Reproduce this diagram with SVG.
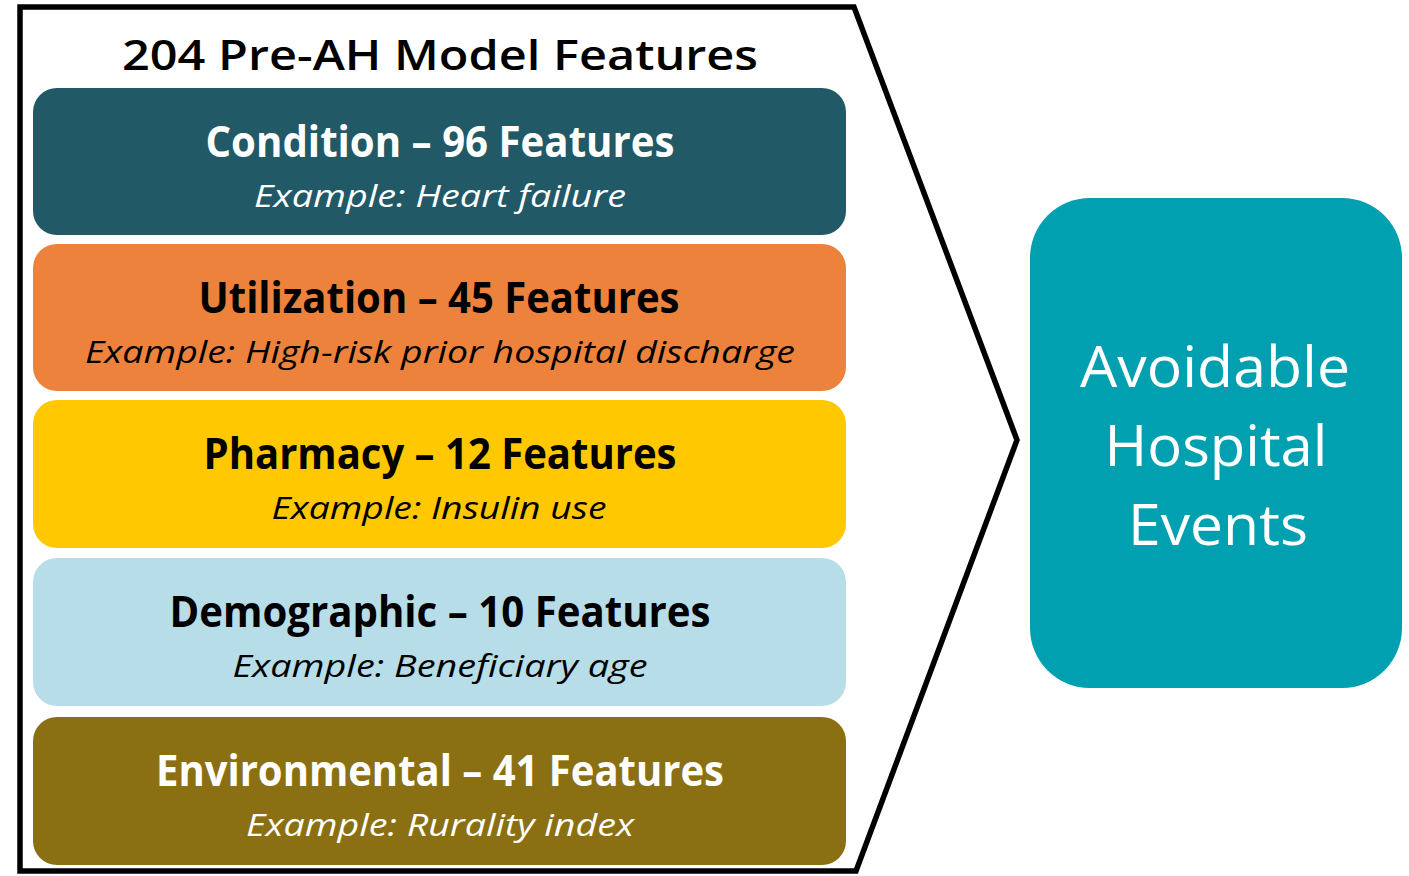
<svg xmlns="http://www.w3.org/2000/svg" width="1409" height="876" viewBox="0 0 1409 876">
<style>
.t{font-family:"Open Sans","Liberation Sans",sans-serif;text-anchor:middle}
.h{font-weight:700;font-size:43px}
.e{font-style:italic;font-size:31px}
.w{fill:#ffffff}
.k{fill:#000000}
</style>
<rect width="1409" height="876" fill="#ffffff"/>
<g id="frame">
<polygon points="20,7 854,7 1017,440 856,871 20,871" fill="#ffffff" stroke="#000000" stroke-width="5.5" stroke-linejoin="miter"/>
<text class="t k" x="440" y="70" font-size="41" font-weight="600" textLength="636" lengthAdjust="spacingAndGlyphs">204 Pre-AH Model Features</text>
</g>
<g id="condition">
<rect x="33" y="88" width="813" height="147" rx="24" fill="#215967"/>
<text class="t h w" x="440" y="157" textLength="469" lengthAdjust="spacingAndGlyphs">Condition – 96 Features</text>
<text class="t e w" x="440" y="207" textLength="372" lengthAdjust="spacingAndGlyphs">Example: Heart failure</text>
</g>
<g id="utilization">
<rect x="33" y="244" width="813" height="147" rx="24" fill="#ED823D"/>
<text class="t h k" x="439" y="313" textLength="481" lengthAdjust="spacingAndGlyphs">Utilization – 45 Features</text>
<text class="t e k" x="440" y="363" textLength="710" lengthAdjust="spacingAndGlyphs">Example: High-risk prior hospital discharge</text>
</g>
<g id="pharmacy">
<rect x="33" y="400" width="813" height="148" rx="24" fill="#FFC800"/>
<text class="t h k" x="440" y="469" textLength="473" lengthAdjust="spacingAndGlyphs">Pharmacy – 12 Features</text>
<text class="t e k" x="439" y="519" textLength="335" lengthAdjust="spacingAndGlyphs">Example: Insulin use</text>
</g>
<g id="demographic">
<rect x="33" y="558" width="813" height="148" rx="24" fill="#B6DDE8"/>
<text class="t h k" x="440" y="627" textLength="541" lengthAdjust="spacingAndGlyphs">Demographic – 10 Features</text>
<text class="t e k" x="440" y="677" textLength="415" lengthAdjust="spacingAndGlyphs">Example: Beneficiary age</text>
</g>
<g id="environmental">
<rect x="33" y="717" width="813" height="148" rx="24" fill="#8B7013"/>
<text class="t h w" x="440" y="786" textLength="568" lengthAdjust="spacingAndGlyphs">Environmental – 41 Features</text>
<text class="t e w" x="440" y="836" textLength="388" lengthAdjust="spacingAndGlyphs">Example: Rurality index</text>
</g>
<g id="outcome">
<rect x="1030" y="198" width="372" height="490" rx="60" fill="#00A0B0"/>
<text class="t w" x="1215" y="387" font-size="57" textLength="270" lengthAdjust="spacingAndGlyphs">Avoidable</text>
<text class="t w" x="1216" y="466" font-size="57" textLength="223" lengthAdjust="spacingAndGlyphs">Hospital</text>
<text class="t w" x="1218" y="545" font-size="57" textLength="180" lengthAdjust="spacingAndGlyphs">Events</text>
</g>
<g id="connectors"></g>
</svg>
